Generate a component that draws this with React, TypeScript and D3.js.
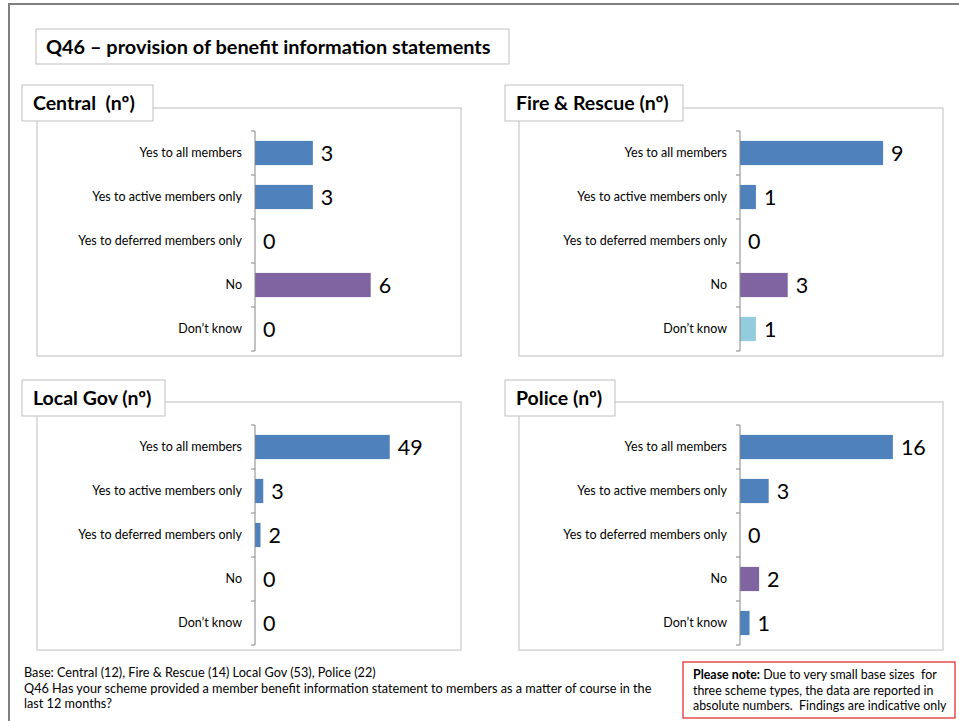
import React from "react";
import * as d3 from "d3";

const categories = [
  "Yes to all members",
  "Yes to active members only",
  "Yes to deferred members only",
  "No",
  "Don’t know",
];
const centralValues = [3, 3, 0, 6, 0];
const fireValues = [9, 1, 0, 3, 1];
const localGovValues = [49, 3, 2, 0, 0];
const policeValues = [16, 3, 0, 2, 1];
const panelTitles = ["Central  (nº)", "Fire & Rescue (nº)", "Local Gov (nº)", "Police (nº)"];
const axisMaxima = [7, 10, 60, 18];

const BLUE = "#4F81BD";
const PURPLE = "#8064A2";
const LIGHT = "#93CDDD";
const centralColors = [BLUE, BLUE, BLUE, PURPLE, BLUE];
const fireColors = [BLUE, BLUE, BLUE, PURPLE, LIGHT];
const localGovColors = [BLUE, BLUE, BLUE, PURPLE, BLUE];
const policeColors = [BLUE, BLUE, BLUE, PURPLE, BLUE];

const titleText = "Q46 – provision of benefit information statements";
const footerLines = [
  "Base: Central (12), Fire & Rescue (14) Local Gov (53), Police (22)",
  "Q46 Has your scheme provided a member benefit information statement to members as a matter of course in the",
  "last 12 months?",
];
const noteLines = [
  ["Please note:", " Due to very small base sizes  for"],
  ["", "three scheme types, the data are reported in"],
  ["", "absolute numbers.  Findings are indicative only"],
];

const FONT = "Lato, 'Open Sans', sans-serif";

type PanelCfg = {
  title: string;
  values: number[];
  colors: string[];
  axisMax: number;
  plotW: number;
  boxX: number;
  boxY: number;
  axisOff: number;
  headW: number;
  headX: number;
  headY: number;
};

const panels: PanelCfg[] = [
  { title: panelTitles[0], values: centralValues, colors: centralColors, axisMax: axisMaxima[0], plotW: 135, boxX: 37, boxY: 108, axisOff: 218, headX: 22, headY: 85, headW: 131 },
  { title: panelTitles[1], values: fireValues, colors: fireColors, axisMax: axisMaxima[1], plotW: 159, boxX: 519, boxY: 108, axisOff: 221, headX: 505, headY: 85, headW: 178 },
  { title: panelTitles[2], values: localGovValues, colors: localGovColors, axisMax: axisMaxima[2], plotW: 165, boxX: 37, boxY: 402, axisOff: 218, headX: 22, headY: 380, headW: 143 },
  { title: panelTitles[3], values: policeValues, colors: policeColors, axisMax: axisMaxima[3], plotW: 172, boxX: 519, boxY: 402, axisOff: 221, headX: 505, headY: 380, headW: 110 },
];

function Panel({ p }: { p: PanelCfg }) {
  const boxW = 424;
  const boxH = 248;
  const axisX = p.boxX + p.axisOff;
  const top = p.boxY + 23;
  const y = d3
    .scaleBand<string>()
    .domain(categories)
    .range([top, top + 220])
    .paddingInner(0.45)
    .paddingOuter(0.225);
  const x = d3.scaleLinear().domain([0, p.axisMax]).range([axisX, axisX + p.plotW]);
  const step = y.step();
  const tickYs = d3.range(categories.length + 1).map((i) => top + i * step);
  return (
    <g>
      <rect x={p.boxX} y={p.boxY} width={boxW} height={boxH} fill="#fff" stroke="#d4d4d4" strokeWidth={1.5} />
      {categories.map((c, i) => {
        const v = p.values[i];
        const by = y(c)!;
        return (
          <g key={c}>
            <text x={axisX - 13} y={by + y.bandwidth() / 2} dy="0.35em" textAnchor="end" fontSize={12.5} fill="#000" fontFamily={FONT}>
              {c}
            </text>
            {v > 0 && (
              <rect x={x(0)} y={by} width={x(v) - x(0)} height={y.bandwidth()} fill={p.colors[i]} />
            )}
            <text x={x(v) + 8} y={by + y.bandwidth() / 2} dy="0.36em" fontSize={21.5} fill="#000" fontFamily={FONT}>
              {v}
            </text>
          </g>
        );
      })}
      <line x1={axisX} x2={axisX} y1={top} y2={top + 220} stroke="#868686" strokeWidth={1} />
      {tickYs.map((t, i) => (
        <line key={i} x1={axisX - 4} x2={axisX} y1={t} y2={t} stroke="#868686" strokeWidth={1} />
      ))}
      <rect x={p.headX} y={p.headY} width={p.headW} height={36} fill="#fff" stroke="#bfbfbf" strokeWidth={1} />
      <text x={p.headX + 11} y={p.headY + 18} dy="0.35em" fontSize={19.5} fontWeight="bold" fontFamily={FONT} fill="#000" style={{ whiteSpace: "pre" }}>
        {p.title}
      </text>
    </g>
  );
}

export default function App() {
  return (
    <svg
      width={959}
      height={721}
      style={{ position: "absolute", left: 0, top: 0, background: "#fff" }}
      fontFamily={FONT}
    >
      <rect x={0} y={0} width={959} height={721} fill="#fff" />
      <rect x={9} y={4} width={1000} height={800} fill="none" stroke="#808080" strokeWidth={2} />
      <rect x={36} y={29} width={473} height={35} fill="#fff" stroke="#bfbfbf" strokeWidth={1} />
      <text x={46} y={47} dy="0.35em" fontSize={19.9} fontWeight="bold" fill="#000">
        {titleText}
      </text>
      {panels.map((p) => (
        <Panel key={p.title} p={p} />
      ))}
      {footerLines.map((l, i) => (
        <text key={i} x={24} y={673 + i * 15.5} dy="0.35em" fontSize={12.7} fill="#000">
          {l}
        </text>
      ))}
      <rect x={683} y={662} width={272} height={56} fill="#fff" stroke="#e02020" strokeWidth={1.2} />
      {noteLines.map((l, i) => (
        <text key={i} x={693} y={675 + i * 15.5} dy="0.35em" fontSize={12.4} fill="#000" style={{ whiteSpace: "pre" }}>
          {l[0] && <tspan fontWeight="bold">{l[0]}</tspan>}
          <tspan>{l[1]}</tspan>
        </text>
      ))}
    </svg>
  );
}
